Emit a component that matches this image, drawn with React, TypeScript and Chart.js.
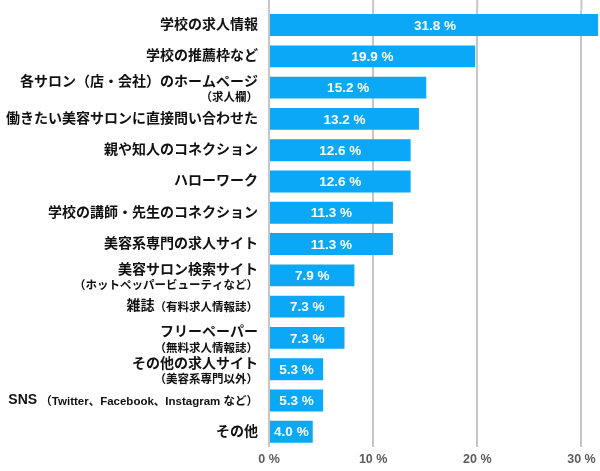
import React, { useEffect, useRef } from "react";
import { Chart, registerables } from "chart.js";

Chart.register(...registerables);

// Category labels: each line is [large text, small text]
const labelLines: [string, string][][] = [
  [["学校の求人情報", ""]],
  [["学校の推薦枠など", ""]],
  [["各サロン（店・会社）のホームページ", ""], ["", "（求人欄）"]],
  [["働きたい美容サロンに直接問い合わせた", ""]],
  [["親や知人のコネクション", ""]],
  [["ハローワーク", ""]],
  [["学校の講師・先生のコネクション", ""]],
  [["美容系専門の求人サイト", ""]],
  [["美容サロン検索サイト", ""], ["", "（ホットペッパービューティなど）"]],
  [["雑誌", "（有料求人情報誌）"]],
  [["フリーペーパー", ""], ["", "（無料求人情報誌）"]],
  [["その他の求人サイト", ""], ["", "（美容系専門以外）"]],
  [["SNS", " （Twitter、Facebook、Instagram など）"]],
  [["その他", ""]],
];

const categories = labelLines.map((l) => l.map((p) => p[0] + p[1]).join(""));

// bar lengths as drawn in the picture (%)
const barValues = [31.8, 19.8, 15.1, 14.4, 13.6, 13.6, 11.9, 11.9, 8.2, 7.25, 7.25, 5.2, 5.2, 4.2];

// value labels printed on the bars
const valueLabels = [
  "31.8 %", "19.9 %", "15.2 %", "13.2 %", "12.6 %", "12.6 %", "11.3 %",
  "11.3 %", "7.9 %", "7.3 %", "7.3 %", "5.3 %", "5.3 %", "4.0 %",
];

const xTicks = [0, 10, 20, 30];

const FONT = '"Liberation Sans", "Noto Sans CJK JP", Arial, sans-serif';
const BAR_COLOR = "#0aa8f6";
const GRID_COLOR = "#c6c6c6";

export default function App() {
  const ref = useRef<HTMLCanvasElement | null>(null);

  useEffect(() => {
    const canvas = ref.current;
    if (!canvas) return;

    const customPlugin = {
      id: "custom",
      beforeDatasetsDraw(chart: any) {
        const { ctx, chartArea } = chart;
        const xs = chart.scales.x;
        ctx.save();
        ctx.strokeStyle = GRID_COLOR;
        ctx.lineWidth = 2;
        xTicks.forEach((t) => {
          const px = xs.getPixelForValue(t);
          ctx.beginPath();
          ctx.moveTo(px, 0);
          ctx.lineTo(px, chartArea.top);
          ctx.stroke();
        });
        ctx.restore();
      },
      afterDatasetsDraw(chart: any) {
        const { ctx, chartArea } = chart;
        const ys = chart.scales.y;
        const meta = chart.getDatasetMeta(0);
        ctx.save();
        // value labels
        ctx.fillStyle = "#ffffff";
        ctx.font = `bold 13.5px ${FONT}`;
        ctx.textAlign = "center";
        ctx.textBaseline = "middle";
        meta.data.forEach((bar: any, i: number) => {
          const cx = (bar.x + bar.base) / 2;
          ctx.fillText(valueLabels[i], cx, bar.y + 1);
        });
        // category labels
        ctx.fillStyle = "#111111";
        ctx.textAlign = "right";
        const rightX = chartArea.left - 11;
        const bigLH = 17;
        const smallLH = 15;
        labelLines.forEach((lines, i) => {
          const cy = ys.getPixelForTick(i);
          const heights = lines.map((l) => (l[0] ? bigLH : smallLH));
          const total = heights.reduce((a, b) => a + b, 0);
          let y = cy - total / 2 + (lines.length > 1 ? 2 : 0);
          lines.forEach((l, j) => {
            const mid = y + heights[j] / 2;
            let x = rightX;
            if (l[1]) {
              ctx.font = `bold 11.5px ${FONT}`;
              ctx.fillText(l[1], x, mid + (l[0] ? 1 : 0));
              x -= ctx.measureText(l[1]).width;
            }
            if (l[0]) {
              ctx.font = `bold 14px ${FONT}`;
              ctx.fillText(l[0], x, mid);
            }
            y += heights[j];
          });
        });
        ctx.restore();
      },
    };

    const chart = new Chart(canvas, {
      type: "bar",
      data: {
        labels: categories,
        datasets: [
          {
            data: barValues,
            backgroundColor: BAR_COLOR,
            borderWidth: 0,
            barPercentage: 0.7,
            categoryPercentage: 1,
          },
        ],
      },
      options: {
        indexAxis: "y",
        responsive: false,
        animation: false,
        layout: { padding: { top: 9.4, right: 0, bottom: 0, left: 0 } },
        plugins: {
          legend: { display: false },
          tooltip: { enabled: false },
        },
        scales: {
          x: {
            type: "linear",
            min: 0,
            max: 31.6,
            border: { display: false },
            grid: { color: GRID_COLOR, lineWidth: 2, drawTicks: false },
            ticks: {
              stepSize: 10,
              includeBounds: false,
              padding: 4.3,
              color: "#5c5c5c",
              font: { family: FONT, size: 12.5, weight: "bold" },
              callback: (v: any) => `${v} %`,
            },
          },
          y: {
            type: "category",
            border: { display: false },
            grid: { display: false },
            ticks: { display: false },
            afterFit: (s: any) => {
              s.width = 269;
            },
          },
        },
      },
      plugins: [customPlugin],
    } as any);

    return () => chart.destroy();
  }, []);

  return (
    <div style={{ position: "absolute", left: 0, top: 0, width: 600, height: 471, background: "#fff" }}>
      <canvas ref={ref} width={600} height={471} style={{ display: "block" }} />
    </div>
  );
}
